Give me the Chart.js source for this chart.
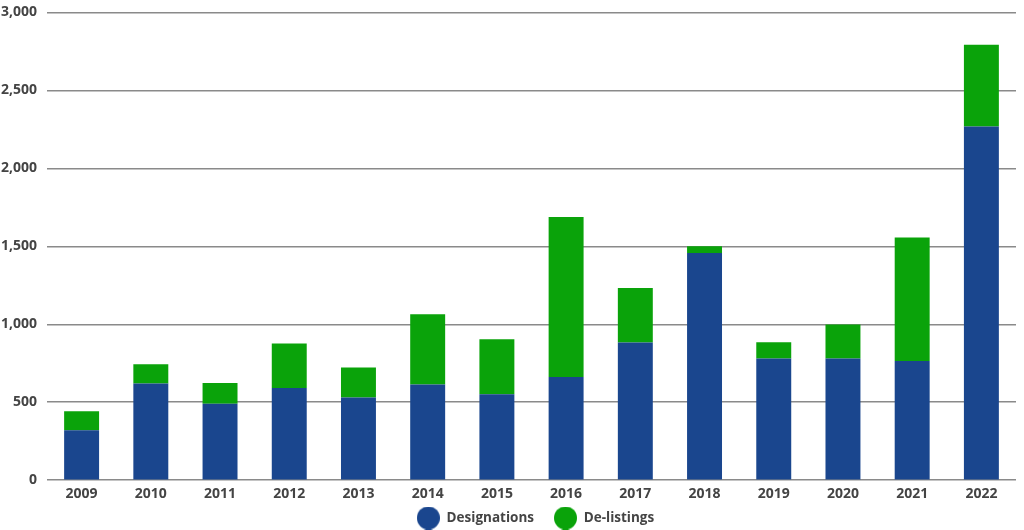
<!DOCTYPE html>
<html>
<head>
<meta charset="utf-8">
<script src="https://cdn.jsdelivr.net/npm/chart.js@4/dist/chart.umd.min.js"></script>
<style>
    html, body { margin: 0; padding: 0; background: #fff; }
    #wrap { width: 1024px; height: 530px; }
</style>
</head>
<body>
<div id="wrap"><canvas id="chart"></canvas></div>
<script>
// Data
const years = ['2009', '2010', '2011', '2012', '2013', '2014', '2015', '2016', '2017', '2018', '2019', '2020', '2021', '2022'];
const designations = [320, 620, 491, 592, 530, 613, 551, 662, 883, 1457, 780, 780, 765, 2269];
const delistings = [122, 124, 133, 284, 192, 451, 353, 1026, 350, 43, 105, 218, 791, 524];
const yTicks = [0, 500, 1000, 1500, 2000, 2500, 3000];

const blue = '#1a468e';
const green = '#0aa30a';

// big round legend markers
function dot(color) {
    const c = document.createElement('canvas');
    c.width = 23;
    c.height = 23;
    const g = c.getContext('2d');
    g.fillStyle = color;
    g.beginPath();
    g.arc(11.5, 11.5, 11.5, 0, Math.PI * 2);
    g.fill();
    return c;
}

// legend: wide spacing between items but a short box under the x labels
const LEGEND_H = 23;
const LEGEND_MID = 518;
const LEGEND_SHIFT = 4;
const tightLegend = {
    id: 'tightLegend',
    beforeLayout(chart) {
        const lg = chart.legend;
        if (!lg || lg._tight) return;
        const fit = lg.fit;
        lg.fit = function () {
            fit.call(this);
            this.height = LEGEND_H;
        };
        lg._tight = true;
    },
    afterLayout(chart) {
        // move the box up so the row sits at LEGEND_MID, and keep it tall enough not to clip
        const lg = chart.legend;
        const opts = lg.options.labels;
        lg.top = LEGEND_MID - opts.padding - opts.font.size / 2;
        lg.bottom = chart.height;
        lg.height = lg.bottom - lg.top;
        lg.left += LEGEND_SHIFT;
        lg.right += LEGEND_SHIFT;
    }
};

Chart.defaults.font.family = '"Open Sans", sans-serif';
Chart.defaults.font.weight = 'bold';
Chart.defaults.color = '#444';

const ctx = document.getElementById('chart').getContext('2d');
new Chart(ctx, {
    type: 'bar',
    data: {
        labels: years,
        datasets: [{
            label: 'Designations',
            data: designations,
            backgroundColor: blue,
            pointStyle: dot(blue),
            barPercentage: 0.505,
            categoryPercentage: 1
        }, {
            label: 'De-listings',
            data: delistings,
            backgroundColor: green,
            pointStyle: dot(green),
            barPercentage: 0.505,
            categoryPercentage: 1
        }]
    },
    plugins: [tightLegend],
    options: {
        responsive: true,
        maintainAspectRatio: false,
        animation: false,
        layout: {
            padding: { top: 0, right: 8, left: 0, bottom: 0 }
        },
        plugins: {
            legend: {
                position: 'bottom',
                fullSize: false,
                labels: {
                    usePointStyle: true,
                    pointStyleWidth: 23,
                    padding: 20,
                    font: { size: 13.5, weight: 'bold' },
                    color: '#444'
                }
            },
            tooltip: { enabled: false }
        },
        scales: {
            x: {
                stacked: true,
                grid: { display: false, drawTicks: false },
                border: { display: false },
                ticks: { font: { size: 14, weight: 'bold' }, padding: 5 }
            },
            y: {
                stacked: true,
                min: 0,
                max: 3000,
                afterBuildTicks: axis => {
                    axis.ticks = yTicks.map(v => ({ value: v }));
                },
                afterFit: axis => {
                    axis.width = 47;
                },
                grid: {
                    color: '#8a8a8a',
                    lineWidth: 1.5,
                    drawTicks: true,
                    tickLength: 6,
                    tickColor: 'rgba(0,0,0,0)'
                },
                border: { display: false },
                ticks: {
                    font: { size: 14, weight: 'bold' },
                    padding: 4,
                    callback: v => v.toLocaleString('en-US')
                }
            }
        }
    }
});
</script>
</body>
</html>
